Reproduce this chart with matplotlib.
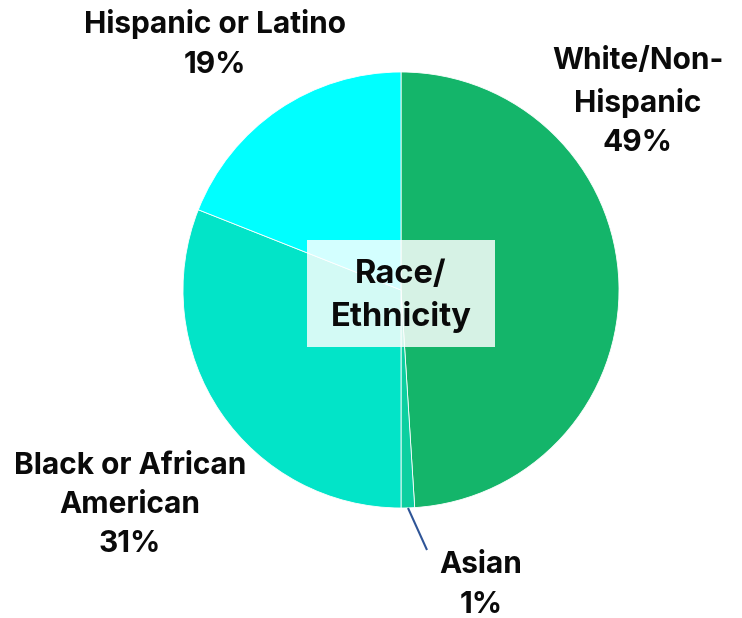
import matplotlib
matplotlib.use("Agg")
import matplotlib.pyplot as plt
from matplotlib.patches import Rectangle

categories = ["White/Non-\nHispanic", "Asian", "Black or African\nAmerican", "Hispanic or Latino"]
values = [49, 1, 31, 19]
colors = ["#14B56A", "#0CCFA0", "#02E4C8", "#00FFFF"]

W, H = 742, 618
fig = plt.figure(figsize=(W / 100, H / 100), dpi=100)
ax = fig.add_axes([0, 0, 1, 1])

def Y(y):
    return H - y

cx, cy, r = 401, 290, 218
wedges, _ = ax.pie(values, colors=colors, startangle=90, counterclock=False,
                   center=(cx, Y(cy)), radius=r,
                   wedgeprops=dict(edgecolor="white", linewidth=0.6))
ax.set_xlim(0, W)
ax.set_ylim(0, H)
ax.set_aspect("equal")
ax.axis("off")

font = "Inter"
# center label box
ax.add_patch(Rectangle((307, Y(347)), 188, 107, facecolor="white", alpha=0.83,
                       edgecolor="none", zorder=3))
ax.text(401, Y(296), "Race/\nEthnicity", ha="center", va="center", fontsize=23.5,
        fontweight="bold", family=font, linespacing=1.42, zorder=4, color="#0A0A0A")

labels = [f"{c}\n{v}%" for c, v in zip(categories, values)]
pos = [(638, 102), (481, 585), (130, 505), (215, 44)]
for lab, (x, y) in zip(labels, pos):
    ax.text(x, Y(y), lab, ha="center", va="center", fontsize=21.5, fontweight="bold",
            family=font, linespacing=1.52, color="#0A0A0A")

# leader line for Asian
ax.plot([408, 427], [Y(508), Y(550)], color="#2F5597", lw=1.5, solid_capstyle="butt")

fig.savefig("out.png", dpi=100)
